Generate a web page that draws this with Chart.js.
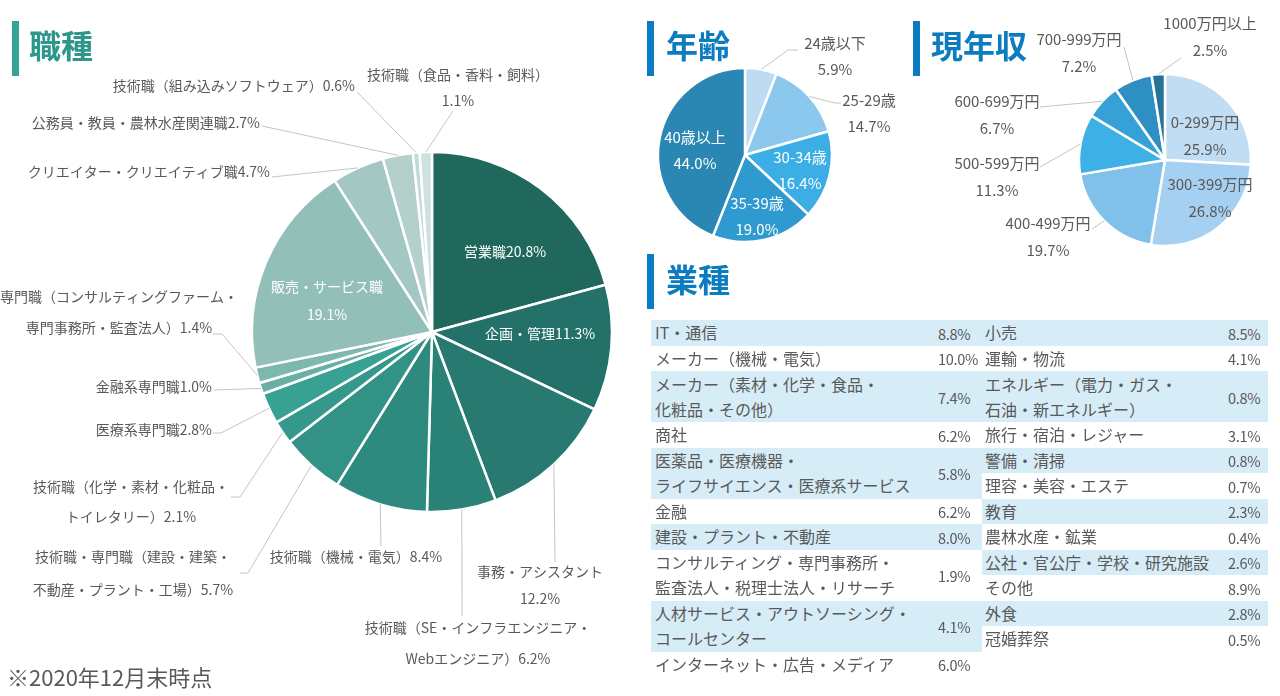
<!DOCTYPE html>
<html lang="ja">
<head>
<meta charset="utf-8">
<script src="https://cdn.jsdelivr.net/npm/chart.js"></script>
<style>
  body { margin: 0; width: 1280px; height: 696px; overflow: hidden; background: #fff; position: relative;
         font-family: "Noto Sans CJK JP", "Noto Sans", sans-serif; color: #595959; }
  canvas.full { position: absolute; left: 0; top: 0; }
  .bar { position: absolute; width: 7px; height: 55px; }
  .title { position: absolute; font-size: 32px; font-weight: 700; line-height: 1; }
  .teal { color: #2e978c; } .teal.bar { background: #35a396; }
  .blue { color: #0c7cc0; } .blue.bar { background: #0c7cc0; }
  .col { position: absolute; top: 320px; }
  .row { position: relative; display: flex; align-items: center; }
  .row.shade { background: #d6ecf7; }
  .name { font-size: 16px; line-height: 25px; white-space: nowrap; }
  .val { position: absolute; top: 50%; transform: translateY(-50%); font-size: 14.5px; letter-spacing: -0.3px; }
  .note { position: absolute; left: 7px; top: 665px; font-size: 22px; line-height: 1; }
</style>
</head>
<body>
<canvas id="job" class="full" width="1280" height="696"></canvas>
<canvas id="age" class="full" width="1280" height="696"></canvas>
<canvas id="income" class="full" width="1280" height="696"></canvas>

<div class="bar teal" style="left:12px;top:21px"></div>
<div class="title teal" style="left:29px;top:28px">職種</div>
<div class="bar blue" style="left:647px;top:21px"></div>
<div class="title blue" style="left:666px;top:28px">年齢</div>
<div class="bar blue" style="left:913px;top:21px"></div>
<div class="title blue" style="left:931px;top:28px">現年収</div>
<div class="bar blue" style="left:647px;top:254px"></div>
<div class="title blue" style="left:666px;top:262px">業種</div>

<div id="indLeft" class="col" style="left:651px;width:331px"></div>
<div id="indRight" class="col" style="left:982px;width:286px"></div>

<div class="note">※2020年12月末時点</div>

<script>
const W = 1280, H = 696;

// 職種
const jobLabels = ['営業職', '企画・管理', '事務・アシスタント', '技術職（SE・インフラエンジニア・\nWebエンジニア）',
  '技術職（機械・電気）', '技術職・専門職（建設・建築・\n不動産・プラント・工場）', '技術職（化学・素材・化粧品・\nトイレタリー）',
  '医療系専門職', '金融系専門職', '専門職（コンサルティングファーム・\n専門事務所・監査法人）', '販売・サービス職',
  'クリエイター・クリエイティブ職', '公務員・教員・農林水産関連職', '技術職（組み込みソフトウェア）', '技術職（食品・香料・飼料）'];
const jobValues = [20.8, 11.3, 12.2, 6.2, 8.4, 5.7, 2.1, 2.8, 1.0, 1.4, 19.1, 4.7, 2.7, 0.6, 1.1];

// 年齢
const ageLabels = ['24歳以下', '25-29歳', '30-34歳', '35-39歳', '40歳以上'];
const ageValues = [5.9, 14.7, 16.4, 19.0, 44.0];

// 現年収
const incomeLabels = ['0-299万円', '300-399万円', '400-499万円', '500-599万円', '600-699万円', '700-999万円', '1000万円以上'];
const incomeValues = [25.9, 26.8, 19.7, 11.3, 6.7, 7.2, 2.5];

// 業種
const industryLeft = ['IT・通信', 'メーカー（機械・電気）', 'メーカー（素材・化学・食品・\n化粧品・その他）', '商社',
  '医薬品・医療機器・\nライフサイエンス・医療系サービス', '金融', '建設・プラント・不動産',
  'コンサルティング・専門事務所・\n監査法人・税理士法人・リサーチ', '人材サービス・アウトソーシング・\nコールセンター',
  'インターネット・広告・メディア'];
const industryLeftValues = [8.8, 10.0, 7.4, 6.2, 5.8, 6.2, 8.0, 1.9, 4.1, 6.0];
const industryRight = ['小売', '運輸・物流', 'エネルギー（電力・ガス・\n石油・新エネルギー）', '旅行・宿泊・レジャー',
  '警備・清掃', '理容・美容・エステ', '教育', '農林水産・鉱業', '公社・官公庁・学校・研究施設', 'その他', '外食', '冠婚葬祭'];
const industryRightValues = [8.5, 4.1, 0.8, 3.1, 0.8, 0.7, 2.3, 0.4, 2.6, 8.9, 2.8, 0.5];

// styles
const jobColors = ['#20685c', '#237168', '#287a71', '#2a8277', '#2e8a7f', '#319285', '#34998c', '#37a294',
  '#68b0a6', '#7db8ae', '#92bfb8', '#a3c8c3', '#b4d0cc', '#c3d9d6', '#cde2df'];
const ageColors = ['#bddcf3', '#8cc7ee', '#3caee6', '#2f9acf', '#2a86b2'];
const incomeColors = ['#c0ddf4', '#a5d0f2', '#80c0eb', '#3db0e6', '#36a1d6', '#2e90c2', '#277398'];

// label placement (page px); lead = leader line points after the slice edge
const jobLayout = [
  { x: 505, y: 252, c: '#fff' },
  { x: 540, y: 334, c: '#fff' },
  { x: 540, y: 572, own: true, gap: 27, lead: [[555, 562]] },
  { x: 478, y: 628, lead: [[462, 616]] },
  { x: 356, y: 557, lead: [[381, 546]] },
  { x: 133, y: 557, gap: 33, lead: [[248, 573], [240, 573]] },
  { x: 131, y: 487, gap: 30, lead: [[240, 497], [231, 497]] },
  { x: 212, y: 430, align: 'right', lead: [[221, 433], [213, 433]] },
  { x: 212, y: 387, align: 'right', lead: [[214, 390]] },
  { x: 119, y: 297, lead: [[222, 334], [213, 334]] },
  { x: 327, y: 287, c: '#fff', own: true, gap: 28 },
  { x: 270, y: 172, align: 'right', lead: [[272, 177]] },
  { x: 260, y: 123, align: 'right', lead: [[262, 126]] },
  { x: 355, y: 86, align: 'right', lead: [[357, 92]] },
  { x: 458, y: 75, own: true, gap: 26, lead: [[453, 111]] }
];
const ageLayout = [
  { x: 835, y: 43, lead: [[788, 50], [798, 50]] },
  { x: 869, y: 100, lead: [[835, 103], [841, 103]] },
  { x: 800, y: 157, c: '#fff' },
  { x: 757, y: 203, c: '#fff' },
  { x: 695, y: 137, c: '#fff' }
];
const incomeLayout = [
  { x: 1205, y: 122 },
  { x: 1210, y: 184 },
  { x: 1048, y: 223, lead: [[1092, 229]] },
  { x: 997, y: 163, lead: [[1040, 167]] },
  { x: 997, y: 101, lead: [[1040, 107]] },
  { x: 1079, y: 39, lead: [[1124, 47]] },
  { x: 1210, y: 23, lead: [[1181, 58]] }
];

function labelPlugin(layout, font, gap, own) {
  return {
    id: 'sliceLabels',
    afterDatasetsDraw(chart) {
      const ctx = chart.ctx;
      const labels = chart.data.labels, values = chart.data.datasets[0].data;
      ctx.save();
      chart.getDatasetMeta(0).data.forEach((arc, i) => {
        const L = layout[i];
        const pct = values[i].toFixed(1) + '%';
        const lines = labels[i].split('\n');
        if (own || L.own) lines.push(pct); else lines[lines.length - 1] += pct;
        if (L.lead) {
          const a = (arc.startAngle + arc.endAngle) / 2;
          ctx.beginPath();
          ctx.moveTo(arc.x + Math.cos(a) * arc.outerRadius, arc.y + Math.sin(a) * arc.outerRadius);
          L.lead.forEach(p => ctx.lineTo(p[0], p[1]));
          ctx.strokeStyle = '#c4c4c4';
          ctx.lineWidth = 1;
          ctx.stroke();
        }
        ctx.font = font;
        ctx.fillStyle = L.c || '#595959';
        ctx.textAlign = L.align || 'center';
        ctx.textBaseline = 'middle';
        lines.forEach((t, k) => ctx.fillText(t, L.x, L.y + k * (L.gap || gap)));
      });
      ctx.restore();
    }
  };
}

function pie(id, cx, cy, r, labels, values, colors, plugin) {
  const pad = r + 10;
  new Chart(document.getElementById(id), {
    type: 'pie',
    data: { labels, datasets: [{ data: values, backgroundColor: colors, borderColor: '#fff', borderWidth: 2.5 }] },
    options: {
      responsive: false, animation: false, events: [], radius: r,
      layout: { padding: { left: cx - pad, right: W - cx - pad, top: cy - pad, bottom: H - cy - pad } },
      plugins: { legend: { display: false }, tooltip: { enabled: false } }
    },
    plugins: [plugin]
  });
}

pie('job', 432, 332, 180, jobLabels, jobValues, jobColors,
  labelPlugin(jobLayout, '14px "Noto Sans CJK JP"', 31, false));
pie('age', 745, 155, 87, ageLabels, ageValues, ageColors,
  labelPlugin(ageLayout, '15px "Noto Sans CJK JP"', 26, true));
pie('income', 1165, 160, 86, incomeLabels, incomeValues, incomeColors,
  labelPlugin(incomeLayout, '15px "Noto Sans CJK JP"', 27, true));

// 業種 table
const UNIT = 25.5;
function buildColumn(el, names, vals, valLeft, padLeft) {
  names.forEach((n, i) => {
    const row = document.createElement('div');
    row.className = 'row' + (i % 2 === 0 ? ' shade' : '');
    const parts = n.split('\n');
    row.style.height = parts.length * UNIT + 'px';
    row.innerHTML = `<span class="name" style="padding-left:${padLeft}px">${parts.join('<br>')}</span>` +
      `<span class="val" style="left:${valLeft}px">${vals[i].toFixed(1)}%</span>`;
    el.appendChild(row);
  });
}
buildColumn(document.getElementById('indLeft'), industryLeft, industryLeftValues, 287, 4);
buildColumn(document.getElementById('indRight'), industryRight, industryRightValues, 246, 3);
</script>
</body>
</html>
